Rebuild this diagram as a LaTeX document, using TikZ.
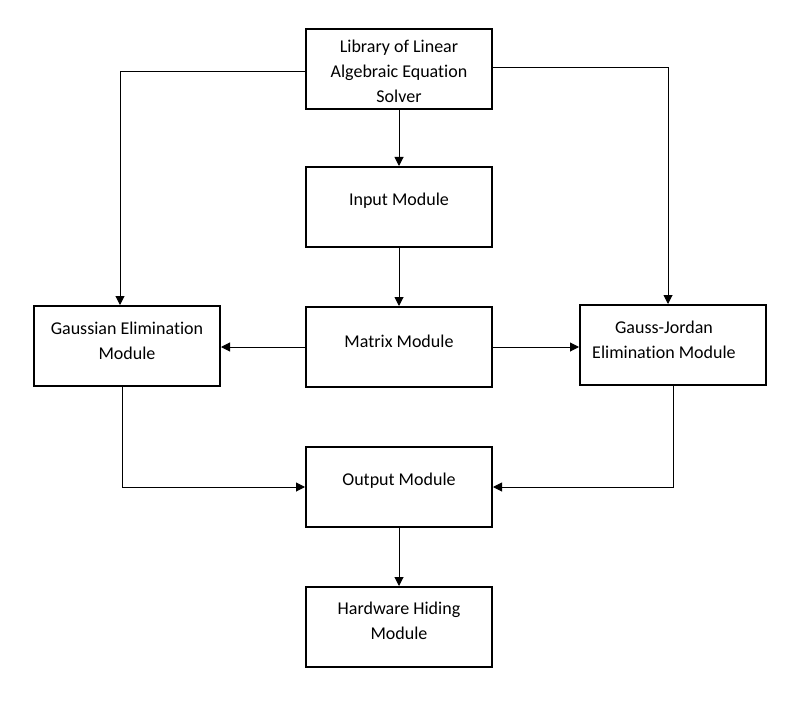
\documentclass[tikz,border=0pt]{standalone}
\usepackage{fontspec}
\setmainfont[Ligatures=NoCommon]{Carlito}
\usetikzlibrary{arrows.meta}
\begin{document}
\begin{tikzpicture}[x=1pt,y=-1pt,
  box/.style={draw=black,line width=2pt,minimum width=186pt,minimum height=80pt,inner sep=0pt},
  txt/.style={align=center,font=\fontsize{18}{25}\selectfont,inner sep=0pt},
  conn/.style={draw=black,line width=1pt,-{Triangle[length=9pt,width=9pt]}}]
\useasboundingbox (0,0) rectangle (800,703);
\node[box] (lib) at (399,69) {};
\node[box] (inp) at (399,207) {};
\node[box] (mat) at (399,347) {};
\node[box] (gau) at (127,346) {};
\node[box] (gj)  at (673,345) {};
\node[box] (out) at (399,487) {};
\node[box] (hw)  at (399,627) {};
\node[txt] (libt) at (399,71) {Library of Linear\\Algebraic Equation\\Solver};
\node[txt] (inpt) at (399,201) {Input Module};
\node[txt] (matt) at (399,341) {Matrix Module};
\node[txt] (gaut) at (127,341) {Gaussian Elimination\\Module};
\node[txt] (gjt)  at (664,340) {Gauss-Jordan\\Elimination Module};
\node[txt] (outt) at (399,481) {Output Module};
\node[txt] (hwt)  at (399,621) {Hardware Hiding\\Module};
\draw[conn] (lib.south) -- (inp.north);
\draw[conn] (inp.south) -- (mat.north);
\draw[conn] (out.south) -- (hw.north);
\draw[conn] ([yshift=-3pt]lib.west) -| ([xshift=-7pt]gau.north);
\draw[conn] ([yshift=1pt]lib.east) -| ([xshift=-5pt]gj.north);
\draw[conn] (mat.west) -- (mat.west -| gau.east);
\draw[conn] (mat.east) -- (mat.east -| gj.west);
\draw[conn] ([xshift=-5pt]gau.south) |- (out.west);
\draw[conn] (gj.south) |- (out.east);
\end{tikzpicture}
\end{document}
